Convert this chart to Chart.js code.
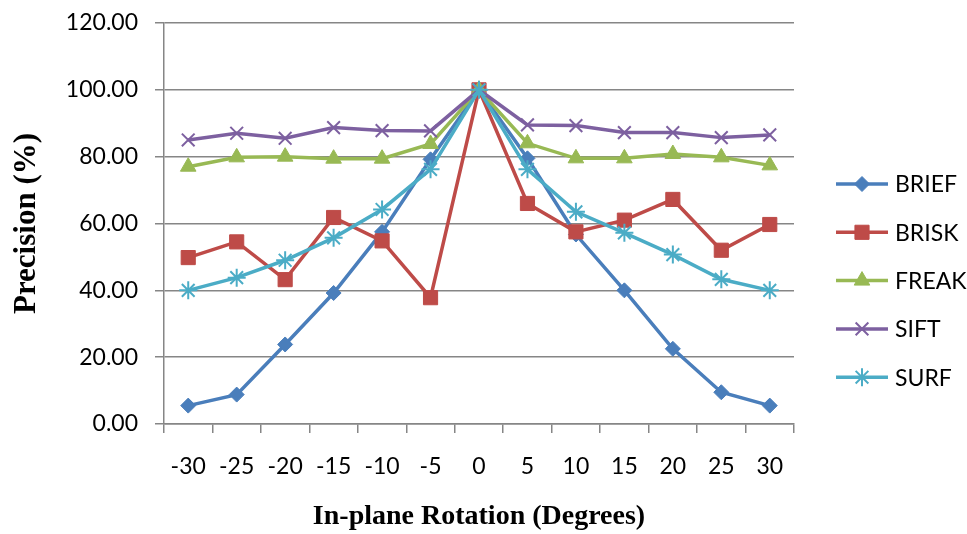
<!DOCTYPE html>
<html>
<head>
<meta charset="utf-8">
<script src="https://cdn.jsdelivr.net/npm/chart.js@4/dist/chart.umd.min.js"></script>
<style>
  html, body { margin: 0; padding: 0; background: #fff; }
  #wrap { width: 967px; height: 534px; }
</style>
</head>
<body>
<div id="wrap"><canvas id="c" width="967" height="534"></canvas></div>
<script>
// rotation angles (degrees)
const rotations = ['-30','-25','-20','-15','-10','-5','0','5','10','15','20','25','30'];

// precision (%) per descriptor
const brief = [5.5, 8.8, 23.8, 39.2, 57.5, 79.2, 100, 79.5, 56.7, 40.0, 22.5, 9.5, 5.5];
const brisk = [49.8, 54.5, 43.2, 61.8, 54.8, 37.8, 100, 66.0, 57.5, 61.0, 67.2, 52.0, 59.7];
const freak = [77.0, 79.8, 80.0, 79.4, 79.4, 83.8, 100, 84.0, 79.5, 79.5, 80.8, 79.8, 77.4];
const sift  = [85.0, 87.0, 85.5, 88.7, 87.8, 87.7, 100, 89.5, 89.3, 87.2, 87.2, 85.7, 86.5];
const surf  = [40.0, 43.8, 49.0, 55.7, 64.2, 76.2, 100, 76.2, 63.5, 57.2, 50.7, 43.3, 40.0];

const seriesNames = ['BRIEF', 'BRISK', 'FREAK', 'SIFT', 'SURF'];
const yTicks = [0, 20, 40, 60, 80, 100, 120];

const gridGrey = '#868686';
const serif = '"Liberation Serif", "Times New Roman", serif';
Chart.defaults.font.family = 'Lato, "Open Sans", sans-serif';
Chart.defaults.color = '#000';

const styles = [
    { color: '#4a7ebb', point: 'rectRot', r: 7.5, bw: 1 },
    { color: '#be4b48', point: 'rect', r: 10, bw: 1 },
    { color: '#98b954', point: 'triangle', r: 9, bw: 1 },
    { color: '#7d60a0', point: 'crossRot', r: 9, bw: 2 },
    { color: '#4bacc6', point: 'star', r: 9, bw: 2 }
];
const values = [brief, brisk, freak, sift, surf];

const datasets = seriesNames.map((name, i) => ({
    label: name,
    data: values[i],
    borderColor: styles[i].color,
    backgroundColor: styles[i].color,
    borderWidth: 3.5,
    pointStyle: styles[i].point,
    pointRadius: styles[i].r,
    pointHoverRadius: styles[i].r,
    pointBorderWidth: styles[i].bw,
    tension: 0,
    order: seriesNames.length - i  // later series sit on top, like Excel
}));

// legend drawn by hand: line with marker in the middle, text to the right
const sideLegend = {
    id: 'sideLegend',
    afterDraw(chart) {
        const ctx = chart.ctx;
        const x0 = 836, x1 = 888, top = 184, gap = 48.3;
        ctx.save();
        seriesNames.forEach((name, i) => {
            const y = top + i * gap;
            const st = styles[i];
            ctx.strokeStyle = st.color;
            ctx.lineWidth = 3.5;
            ctx.beginPath(); ctx.moveTo(x0, y); ctx.lineTo(x1, y); ctx.stroke();
            ctx.fillStyle = st.color;
            ctx.lineWidth = st.bw;
            Chart.helpers.drawPoint(ctx, { pointStyle: st.point, radius: st.r, borderWidth: st.bw }, (x0 + x1) / 2, y);
            ctx.fillStyle = '#000';
            ctx.font = '23px Lato, "Open Sans", sans-serif';
            ctx.textBaseline = 'middle';
            ctx.fillText(name, 895, y + 1);
        });
        ctx.restore();
    }
};

new Chart(document.getElementById('c'), {
    type: 'line',
    data: { labels: rotations, datasets: datasets },
    options: {
        responsive: false,
        animation: false,
        layout: { padding: { top: 23, right: 173, bottom: 0, left: 0 } },
        plugins: { legend: { display: false }, tooltip: { enabled: false } },
        scales: {
            x: {
                offset: true,
                afterFit: s => { s.height = 110; s.paddingLeft = 0; s.paddingRight = 0; },
                grid: { offset: true, drawOnChartArea: false, color: gridGrey, tickLength: 9, lineWidth: 1.5 },
                border: { color: gridGrey, width: 1.5 },
                ticks: { font: { size: 23 }, padding: 20, maxRotation: 0 },
                title: {
                    display: true, text: 'In-plane Rotation (Degrees)',
                    font: { family: serif, size: 28, weight: 'bold' },
                    padding: { top: 0, bottom: 0 }
                }
            },
            y: {
                min: 0, max: 120,
                afterFit: s => { s.width = 164; s.paddingTop = 0; s.paddingBottom = 0; },
                afterBuildTicks: s => { s.ticks = yTicks.map(v => ({ value: v })); },
                grid: { color: gridGrey, tickLength: 9, lineWidth: 1.5 },
                border: { color: gridGrey, width: 1.5 },
                ticks: { font: { size: 23 }, padding: 17, callback: v => Number(v).toFixed(2) },
                title: {
                    display: true, text: 'Precision (%)',
                    font: { family: serif, size: 31, weight: 'bold' },
                    padding: { top: 8, bottom: 0 }
                }
            }
        }
    },
    plugins: [sideLegend]
});
</script>
</body>
</html>
